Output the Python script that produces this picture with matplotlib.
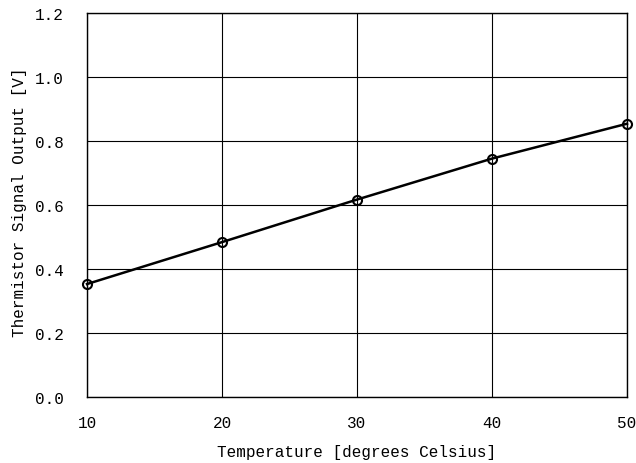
import matplotlib
matplotlib.use("Agg")
import matplotlib.pyplot as plt

temperature = [10, 20, 30, 40, 50]
voltage = [0.353, 0.484, 0.617, 0.745, 0.854]
x_ticks = [10, 20, 30, 40, 50]
y_ticks = [0.0, 0.2, 0.4, 0.6, 0.8, 1.0, 1.2]
y_tick_labels = ["0.0", "0.2", "0.4", "0.6", "0.8", "1.0", "1.2"]

plt.rcParams['font.family'] = ['Liberation Mono', 'DejaVu Sans Mono']

fig = plt.figure(figsize=(6.36, 4.64), dpi=100)
ax = fig.add_axes([87/636, 1 - 398/464, 540/636, 384/464])

ax.plot(temperature, voltage, color='black', linewidth=1.8, marker='o',
        markersize=6.5, markerfacecolor='none', markeredgecolor='black',
        markeredgewidth=1.5, zorder=3, clip_on=False)

ax.set_xlim(10, 50)
ax.set_ylim(0, 1.2)
ax.set_xticks(x_ticks)
ax.set_yticks(y_ticks)
ax.set_yticklabels(y_tick_labels)
ax.grid(True, color='black', linewidth=0.8)
ax.set_axisbelow(True)
for s in ax.spines.values():
    s.set_linewidth(1.0)
    s.set_color('black')
ax.tick_params(axis='both', length=0, labelsize=11.5)
ax.tick_params(axis='x', pad=13)
ax.tick_params(axis='y', pad=17)

ax.set_xlabel("Temperature [degrees Celsius]", fontsize=11.5, labelpad=10)
ax.set_ylabel("Thermistor Signal Output [V]", fontsize=11.5)
ax.yaxis.set_label_coords(-0.112, 0.51)

fig.savefig("out.png", dpi=100)
